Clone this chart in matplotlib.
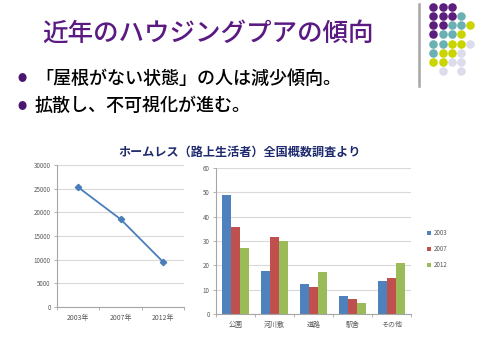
import matplotlib
matplotlib.use("Agg")
import matplotlib.pyplot as plt
import numpy as np

plt.rcParams['font.family'] = ['Noto Sans CJK JP', 'DejaVu Sans']

# ---- data ----
title = "近年のハウジングプアの傾向"
bullets = ["「屋根がない状態」の人は減少傾向。", "拡散し、不可視化が進む。"]
chart_title = "ホームレス（路上生活者）全国概数調査より"

years = ["2003年", "2007年", "2012年"]
counts = [25296, 18564, 9576]

places = ["公園", "河川敷", "道路", "駅舎", "その他"]
series_names = ["2003", "2007", "2012"]
pct_2003 = [48.9, 17.5, 12.4, 7.4, 13.5]
pct_2007 = [35.9, 31.8, 11.0, 6.1, 15.0]
pct_2012 = [27.0, 29.9, 17.4, 4.7, 20.9]

dot_pattern = ["PPP..",
               "PPPT.",
               "PPTTY",
               "PTTY.",
               "TTYYL",
               "TYYL.",
               "YYLL.",
               ".L.L."]
dot_colors = {"P": "#5C1F7E", "T": "#6BB0B3", "Y": "#C9D400", "L": "#DCDCEC"}

W, H = 480, 339
fig = plt.figure(figsize=(W / 100, H / 100), dpi=100)
fig.patch.set_facecolor("white")

def fx(px):
    return px / W

def fy(py):
    return 1 - py / H

# title and bullets
fig.text(fx(208), fy(33), title, color="#5A1A82", fontsize=18.4, ha="center", va="center", weight="medium")
for i, b in enumerate(bullets):
    y = 79 + i * 27
    fig.text(fx(22), fy(y), "●", color="#4B1670", fontsize=6.5, ha="center", va="center")
    fig.text(fx(35), fy(y), b, color="black", fontsize=13, ha="left", va="center", weight="medium")

fig.text(fx(240), fy(152), chart_title, color="#1F2A6E", fontsize=8.7, ha="center", va="center", weight="bold")

# decoration: gray bar and dot grid
deco = fig.add_axes([0, 0, 1, 1], zorder=-1)
deco.set_xlim(0, W)
deco.set_ylim(H, 0)
deco.axis("off")
deco.plot([419, 419], [4, 86], color="#A6A6A6", lw=1.8)
for r, row in enumerate(dot_pattern):
    for c, ch in enumerate(row):
        if ch in dot_colors:
            deco.scatter(433.3 + c * 9.2, 6.7 + r * 9.2, s=38, color=dot_colors[ch], linewidths=0)

grid_c = "#D9D9D9"
tick_c = "#595959"

# left line chart
ax1 = fig.add_axes([fx(57), fy(307), fx(184) - fx(57), fy(165) - fy(307)])
xs = np.arange(len(years))
ax1.plot(xs, counts, color="#4A7EBB", lw=1.3, marker="D", ms=3.2, mfc="#4A7EBB", mec="#4A7EBB")
ax1.set_xlim(-0.5, len(years) - 0.5)
ax1.set_ylim(0, 30000)
ax1.set_yticks(np.arange(0, 30001, 5000))
ax1.set_xticks(xs)
ax1.set_xticklabels(years)
ax1.set_xticks(np.arange(-0.5, len(years)), minor=True)
ax1.grid(axis="y", color=grid_c, lw=0.8)
ax1.set_axisbelow(True)

# right bar chart
ax2 = fig.add_axes([fx(216), fy(314), fx(411) - fx(216), fy(168) - fy(314)])
xp = np.arange(len(places))
bw = 0.23
cols = ["#4F81BD", "#C0504D", "#9BBB59"]
handles = []
for k, vals in enumerate([pct_2003, pct_2007, pct_2012]):
    h = ax2.bar(xp + (k - 1) * bw, vals, width=bw, color=cols[k], label=series_names[k])
    handles.append(h)
ax2.set_xlim(-0.5, len(places) - 0.5)
ax2.set_ylim(0, 60)
ax2.set_yticks(np.arange(0, 61, 10))
ax2.set_xticks(xp)
ax2.set_xticklabels(places)
ax2.set_xticks(np.arange(-0.5, len(places)), minor=True)
ax2.grid(axis="y", color=grid_c, lw=0.8)
ax2.set_axisbelow(True)
fig.legend(handles=handles, loc="center left", bbox_to_anchor=(fx(421), fy(249)),
           frameon=False, fontsize=4.5, handlelength=0.7, handleheight=0.7,
           handletextpad=0.5, labelspacing=1.3, labelcolor=tick_c)

for ax in (ax1, ax2):
    for s in ("top", "right"):
        ax.spines[s].set_visible(False)
    for s in ("left", "bottom"):
        ax.spines[s].set_color("#A6A6A6")
        ax.spines[s].set_linewidth(0.8)
    ax.tick_params(axis="y", labelsize=4.5, colors="#A6A6A6", labelcolor=tick_c, length=2.5, width=0.6, pad=2)
    ax.tick_params(axis="x", which="major", length=0, labelsize=5, labelcolor=tick_c, pad=5)
    ax.tick_params(axis="x", which="minor", length=2.5, width=0.6, colors="#A6A6A6")

fig.savefig("out.png", dpi=100, facecolor="white")
